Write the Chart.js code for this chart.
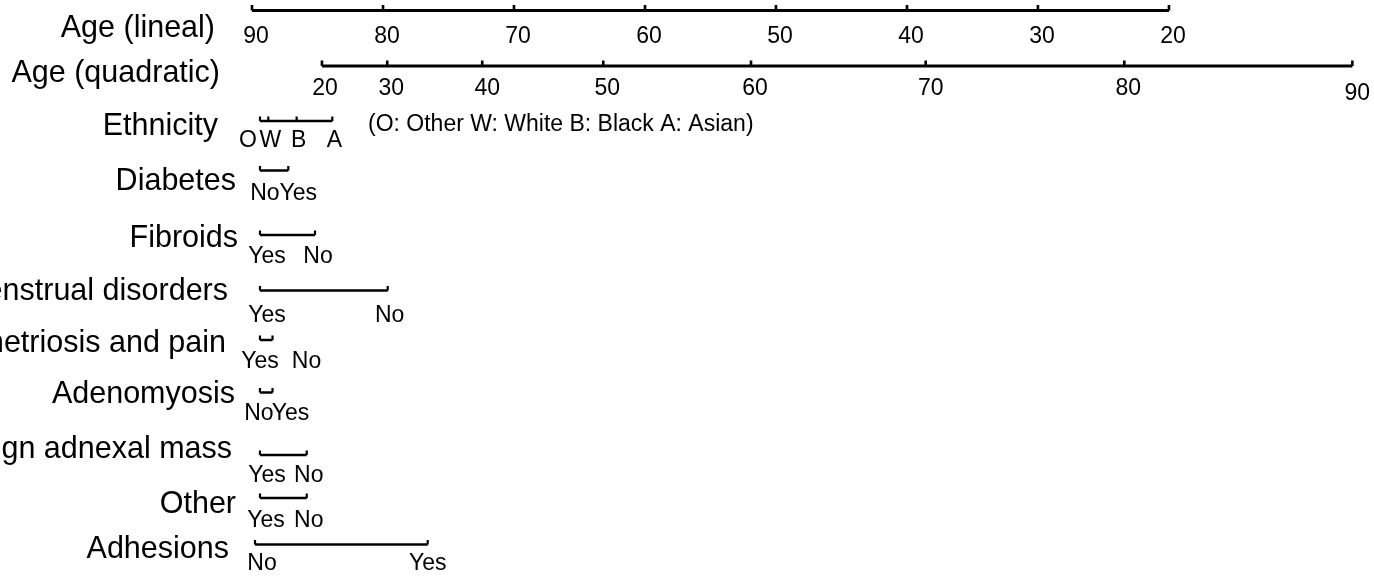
<!DOCTYPE html>
<html>
<head>
<meta charset="utf-8">
<script src="https://cdn.jsdelivr.net/npm/chart.js@4.4.1/dist/chart.umd.min.js"></script>
<style>
  body { margin: 0; background: #fff; }
  #wrap { width: 1374px; height: 581px; position: relative; }
</style>
</head>
<body>
<div id="wrap"><canvas id="nomogram"></canvas></div>
<script>
// nomogram rows (top to bottom)
const rowNames = ['Age (lineal)', 'Age (quadratic)', 'Ethnicity', 'Diabetes', 'Fibroids',
  'Menstrual disorders', 'Endometriosis and pain', 'Adenomyosis', 'Benign adnexal mass', 'Other', 'Adhesions'];

// tick labels and their value on the points scale
const ageLinealLabels = ['90', '80', '70', '60', '50', '40', '30', '20'];
const ageLinealPoints = [0, 14.29, 28.57, 42.86, 57.14, 71.43, 85.71, 100];
const ageQuadLabels = ['20', '30', '40', '50', '60', '70', '80', '90'];
const ageQuadPoints = [7.63, 14.75, 25.11, 38.31, 54.42, 73.47, 95.13, 120];
const ethnicityLabels = ['O', 'W', 'B', 'A'];
const ethnicityPoints = [0.87, 1.78, 4.87, 8.76];
const diabetesLabels = ['No', 'Yes'];
const diabetesPoints = [0.87, 3.96];
const fibroidsLabels = ['Yes', 'No'];
const fibroidsPoints = [0.87, 6.87];
const menstrualLabels = ['Yes', 'No'];
const menstrualPoints = [0.87, 14.8];
const endometriosisLabels = ['Yes', 'No'];
const endometriosisPoints = [0.87, 2.24];
const adenomyosisLabels = ['No', 'Yes'];
const adenomyosisPoints = [0.87, 2.24];
const adnexalLabels = ['Yes', 'No'];
const adnexalPoints = [0.87, 5.97];
const otherLabels = ['Yes', 'No'];
const otherPoints = [0.87, 5.97];
const adhesionsLabels = ['No', 'Yes'];
const adhesionsPoints = [0.33, 19.16];

const ethnicityNote = '(O: Other W: White B: Black A: Asian)';

// layout (pixels)
const lineY = [10.5, 66, 121, 170.5, 235, 290.5, 340, 392.5, 455, 498, 544.5];
const nameRight = [215, 220, 218, 236, 238, 228, 226, 235, 232, 236, 229];
const nameBase = [37, 82, 135, 190, 247, 300, 352, 403, 458, 513, 558];
const tickLabelBase = [43, 95, 147, 200, 263, 322, 368, 420, 482, 527, 570];
const labelDx = [
  [4, 4, 4, 4, 4, 4, 4, 4],
  [3, 4, 5, 4, 4, 5, 4, 5],
  [-12, 2, 2, 2],
  [5, 10],
  [7, 3],
  [7, 2],
  [0, 34],
  [-1, 18],
  [7, 2],
  [6, 2],
  [7, 0]
];
const labelDy = [[], [0, 0, 0, 0, 0, 0, 0, 5]];

const rowLabels = [ageLinealLabels, ageQuadLabels, ethnicityLabels, diabetesLabels, fibroidsLabels,
  menstrualLabels, endometriosisLabels, adenomyosisLabels, adnexalLabels, otherLabels, adhesionsLabels];
const rowPoints = [ageLinealPoints, ageQuadPoints, ethnicityPoints, diabetesPoints, fibroidsPoints,
  menstrualPoints, endometriosisPoints, adenomyosisPoints, adnexalPoints, otherPoints, adhesionsPoints];

const datasets = rowPoints.map(function (pts, i) {
  return {
    label: rowNames[i],
    data: pts.map(function (p) { return { x: p, y: lineY[i] }; }),
    showLine: true,
    borderColor: '#000',
    borderWidth: i < 2 ? 3 : 2.5,
    pointRadius: 0,
    tension: 0
  };
});

const nomogramText = {
  id: 'nomogramText',
  afterDatasetsDraw(chart) {
    const ctx = chart.ctx;
    const xs = chart.scales.x, ys = chart.scales.y;
    ctx.save();
    ctx.fillStyle = '#000';
    rowPoints.forEach(function (pts, i) {
      const py = ys.getPixelForValue(lineY[i]);
      const h = i < 2 ? 5.5 : 4.5;
      const w = i < 2 ? 2.6 : 2.2;
      ctx.font = '23px "Liberation Sans", Arial, sans-serif';
      ctx.textAlign = 'center';
      ctx.textBaseline = 'alphabetic';
      pts.forEach(function (p, j) {
        const px = xs.getPixelForValue(p);
        ctx.fillRect(px - w / 2, py - h, w, h);
        const dy = (labelDy[i] && labelDy[i][j]) || 0;
        ctx.fillText(rowLabels[i][j], px + labelDx[i][j], tickLabelBase[i] + dy);
      });
      ctx.font = '30.5px "Liberation Sans", Arial, sans-serif';
      ctx.textAlign = 'right';
      ctx.fillText(rowNames[i], nameRight[i], nameBase[i]);
    });
    ctx.font = '23px "Liberation Sans", Arial, sans-serif';
    ctx.textAlign = 'left';
    ctx.fillText(ethnicityNote, 368, 131);
    ctx.restore();
  }
};

new Chart(document.getElementById('nomogram'), {
  type: 'scatter',
  data: { datasets: datasets },
  options: {
    responsive: true,
    maintainAspectRatio: false,
    animation: false,
    layout: { padding: 0 },
    plugins: { legend: { display: false }, tooltip: { enabled: false } },
    scales: {
      x: { type: 'linear', min: -27.48, max: 122.36, display: false },
      y: { type: 'linear', min: 0, max: 581, reverse: true, display: false }
    }
  },
  plugins: [nomogramText]
});
</script>
</body>
</html>
